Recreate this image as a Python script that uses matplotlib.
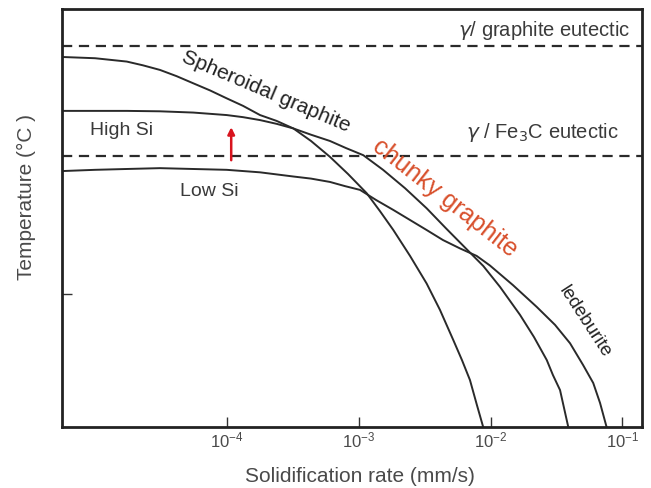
import numpy as np
import matplotlib
matplotlib.use("Agg")
import matplotlib.pyplot as plt

plt.rcParams['font.family'] = ['Liberation Sans', 'DejaVu Sans']

# log10 of solidification rate (mm/s) and relative temperature (0 = bottom, 1 = top)
sg_lograte = [-5.255, -5.004, -4.763, -4.640, -4.511, -4.384, -4.258, -4.131,
              -4.004, -3.880, -3.751, -3.625, -3.498, -3.364, -3.220, -3.083,
              -2.941, -2.840, -2.739, -2.612, -2.486, -2.385, -2.284, -2.218,
              -2.157, -2.104, -2.056]
sg_temp = [0.886, 0.883, 0.875, 0.866, 0.855, 0.840, 0.823, 0.806,
           0.787, 0.769, 0.747, 0.733, 0.715, 0.685, 0.647, 0.606,
           0.560, 0.517, 0.472, 0.410, 0.344, 0.281, 0.209, 0.161,
           0.113, 0.053, 0.0]

hi_lograte = [-5.255, -5.004, -4.763, -4.511, -4.258, -4.004, -3.880, -3.751,
              -3.625, -3.498, -3.364, -3.220, -3.098, -2.967, -2.817, -2.650,
              -2.486, -2.339, -2.182, -2.056, -1.929, -1.777, -1.671, -1.574,
              -1.527, -1.473, -1.410]
hi_temp = [0.757, 0.757, 0.757, 0.756, 0.753, 0.747, 0.742, 0.735,
           0.726, 0.715, 0.700, 0.685, 0.668, 0.651, 0.616, 0.572,
           0.524, 0.476, 0.426, 0.386, 0.336, 0.269, 0.216, 0.161,
           0.125, 0.089, 0.0]

lo_lograte = [-5.255, -5.004, -4.763, -4.511, -4.260, -4.004, -3.751, -3.498,
              -3.364, -3.220, -3.106, -2.992, -2.871, -2.739, -2.486, -2.362,
              -2.233, -2.106, -2.005, -1.830, -1.650, -1.511, -1.397, -1.298,
              -1.221, -1.169, -1.119]
lo_temp = [0.613, 0.616, 0.618, 0.620, 0.618, 0.616, 0.610, 0.600,
           0.595, 0.587, 0.577, 0.568, 0.544, 0.520, 0.472, 0.448,
           0.428, 0.410, 0.387, 0.340, 0.288, 0.245, 0.201, 0.149,
           0.106, 0.058, 0.0]

eutectic_graphite = 0.913
eutectic_fe3c = 0.650
arrow_lograte = -3.97
arrow_from, arrow_to = 0.639, 0.718
ytick_pos = [0.319]
xtick_exp = [-4, -3, -2, -1]

fig = plt.figure(figsize=(6.51, 4.88), dpi=100)
ax = fig.add_axes([0.0948, 0.1244, 0.8909, 0.8565])

line_kw = dict(color='#2a2a2a', lw=1.4, solid_capstyle='round', solid_joinstyle='round')
ax.plot(10.0 ** np.array(sg_lograte), sg_temp, **line_kw)
ax.plot(10.0 ** np.array(hi_lograte), hi_temp, **line_kw)
ax.plot(10.0 ** np.array(lo_lograte), lo_temp, **line_kw)

for y in (eutectic_graphite, eutectic_fe3c):
    ax.axhline(y, color='#2a2a2a', lw=1.6, linestyle=(0, (4.6, 3.0)))

# red arrow: Si raises the Fe3C eutectic
ax.annotate('', xy=(10 ** arrow_lograte, arrow_to), xytext=(10 ** arrow_lograte, arrow_from),
            arrowprops=dict(arrowstyle='-|>', color='#d8141e', lw=1.8,
                            mutation_scale=10, shrinkA=0, shrinkB=0))

ax.set_xscale('log')
ax.set_xlim(10 ** -5.257, 10 ** -0.853)
ax.set_ylim(0, 1)
ax.minorticks_off()
ax.set_xticks([10.0 ** e for e in xtick_exp])
ax.set_xticklabels([r'$\mathregular{10^{%d}}$' % e for e in xtick_exp],
                   fontsize=12, color='#4a4a4a')
ax.set_yticks(ytick_pos)
ax.set_yticklabels([])
ax.tick_params(axis='both', direction='in', length=7, width=1.0, color='#333333')
ax.tick_params(axis='x', pad=2)
for sp in ax.spines.values():
    sp.set_linewidth(2.0)
    sp.set_color('#222222')

ax.set_xlabel('Solidification rate (mm/s)', fontsize=15, color='#4a4a4a')
ax.xaxis.set_label_coords(0.514, -0.096)
ax.set_ylabel('Temperature (°C )', fontsize=15, color='#4a4a4a')
ax.yaxis.set_label_coords(-0.045, 0.551)

txt = dict(transform=ax.transAxes, color='#3a3a3a')
ax.text(0.980, 0.950, r'$\gamma$/ graphite eutectic', ha='right', va='center', fontsize=14.5, **txt)
ax.text(0.961, 0.706, r'$\gamma$ / Fe$_3$C eutectic', ha='right', va='center', fontsize=14.5, **txt)
ax.text(0.049, 0.711, 'High Si', ha='left', va='center', fontsize=14, **txt)
ax.text(0.204, 0.563, 'Low Si', ha='left', va='center', fontsize=14, **txt)
ax.text(0.353, 0.803, 'Spheroidal graphite', ha='center', va='center', fontsize=15,
        rotation=-23, rotation_mode='anchor', transform=ax.transAxes, color='#222222')
ax.text(0.661, 0.549, 'chunky graphite', ha='center', va='center', fontsize=18,
        rotation=-38, rotation_mode='anchor', transform=ax.transAxes, color='#d8502c')
ax.text(0.902, 0.252, 'ledeburite', ha='center', va='center', fontsize=13.5,
        rotation=-57, rotation_mode='anchor', transform=ax.transAxes, color='#222222')

fig.savefig('out.png', dpi=100)
